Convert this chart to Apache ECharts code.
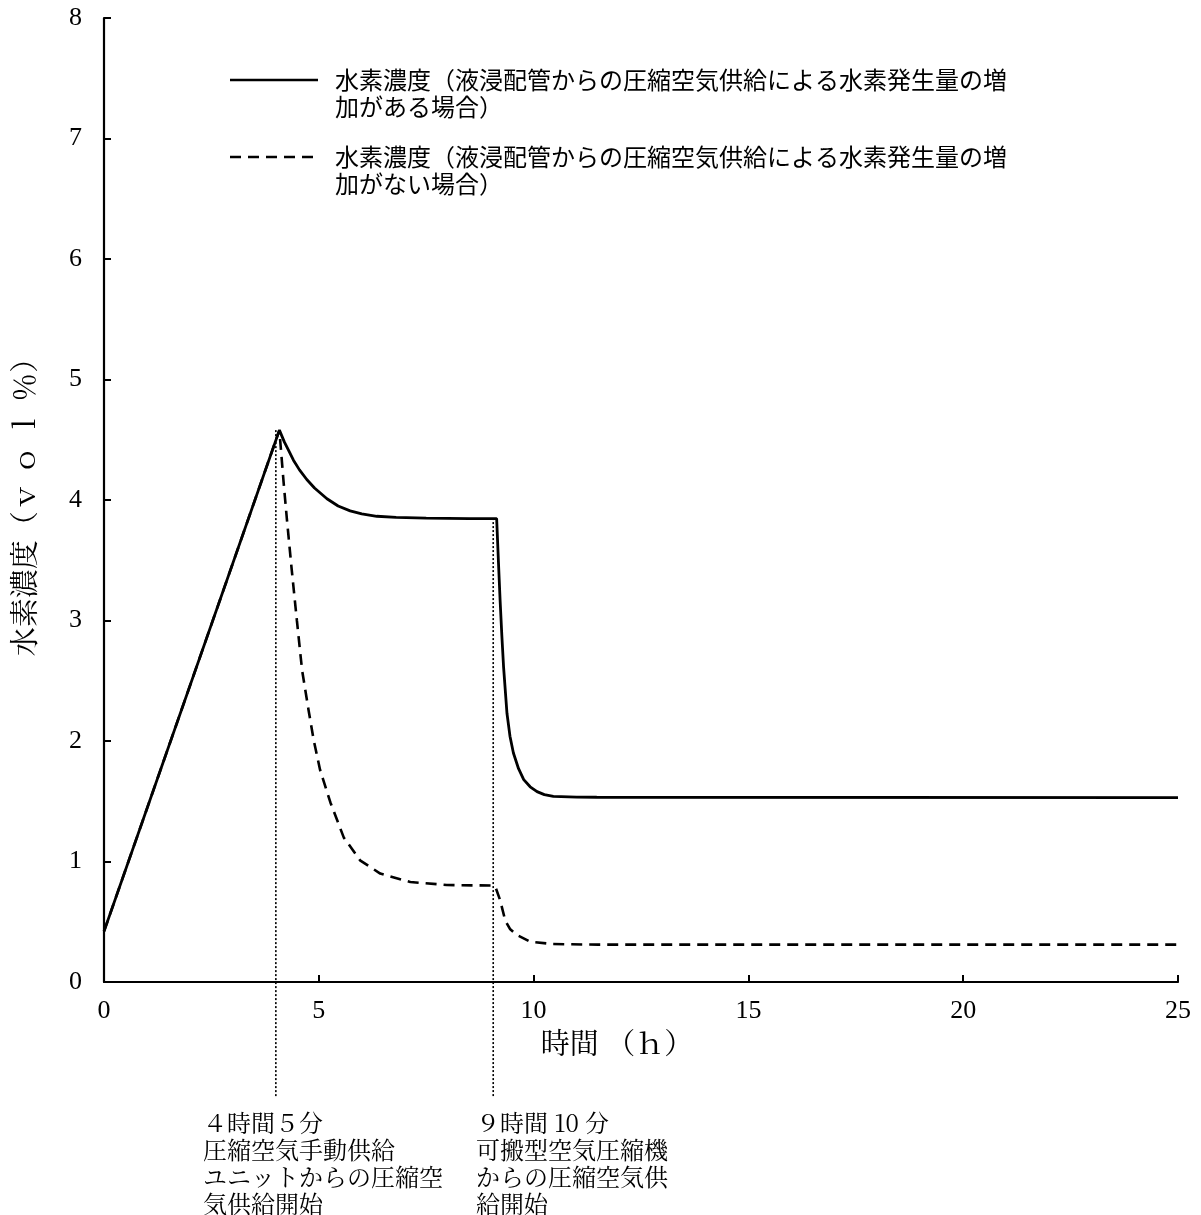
<!DOCTYPE html>
<html>
<head>
<meta charset="utf-8">
<script src="https://cdn.jsdelivr.net/npm/echarts@6/dist/echarts.min.js"></script>
<style>
html,body{margin:0;padding:0;background:#fff;}
#main{width:1201px;height:1215px;}
</style>
</head>
<body>
<div id="main"></div>
<script>
// ---- data ----
var seriesNames = [
  '水素濃度（液浸配管からの圧縮空気供給による水素発生量の増加がある場合）',
  '水素濃度（液浸配管からの圧縮空気供給による水素発生量の増加がない場合）'
];
var legendLines = [
  ['水素濃度（液浸配管からの圧縮空気供給による水素発生量の増', '加がある場合）'],
  ['水素濃度（液浸配管からの圧縮空気供給による水素発生量の増', '加がない場合）']
];
// [time (h), concentration (vol%)]
var withIncrease = [
  [0,0.42],[4.083,4.58],[4.2,4.48],[4.3,4.41],[4.41,4.33],[4.55,4.25],[4.72,4.17],
  [4.9,4.10],[5.19,4.01],[5.45,3.95],[5.73,3.91],[6.0,3.885],[6.35,3.865],[6.8,3.855],
  [7.5,3.85],[8.5,3.845],[9.14,3.845],[9.18,3.50],[9.22,3.17],[9.26,2.88],[9.30,2.62],
  [9.38,2.23],[9.45,2.04],[9.53,1.90],[9.65,1.77],[9.77,1.68],[9.92,1.62],[10.08,1.58],
  [10.25,1.555],[10.46,1.54],[11.0,1.535],[11.47,1.533],[25,1.53]
];
var withoutIncrease = [
  [0,0.42],[4.083,4.58],[4.10,4.50],[4.18,4.15],[4.26,3.83],[4.37,3.42],[4.49,3.00],
  [4.61,2.59],[4.76,2.26],[4.88,2.01],[5.03,1.76],[5.27,1.49],[5.58,1.20],[5.96,1.01],
  [6.43,0.90],[7.13,0.83],[7.98,0.805],[9.06,0.80],[9.12,0.78],[9.22,0.68],[9.34,0.51],
  [9.45,0.44],[9.61,0.39],[9.92,0.335],[10.45,0.315],[11.5,0.31],[25,0.31]
];
// event markers: [time, top value, bottom value (below axis)]
var event1 = [[4.0,4.58],[4.0,-0.95]];
var event2 = [[9.06,3.85],[9.06,-0.95]];
var event1Text = ['４時間５分','圧縮空気手動供給','ユニットからの圧縮空','気供給開始'];
var event2Text = ['９時間 10 分','可搬型空気圧縮機','からの圧縮空気供','給開始'];
var xTicks = {min:0, max:25, interval:5};
var yTicks = {min:0, max:8, interval:1};
var xAxisName = '時間 （ｈ）';
var yAxisName = '水素濃度（ｖ ｏ ｌ ％）';

// ---- chart ----
var chart = echarts.init(document.getElementById('main'));
var serif = '"Liberation Serif","DejaVu Serif",serif';
var cjk = '"Noto Serif CJK JP","Noto Sans CJK JP",sans-serif';
var cjkSans = '"Noto Sans CJK JP",sans-serif';

function legendGraphic(i, y, dashed){
  return [
    {type:'line', shape:{x1:230,y1:y,x2:318,y2:y},
     style:{stroke:'#000', lineWidth:2.6, lineDash: dashed ? [11,7] : null}},
    {type:'text', x:335, y:y-14,
     style:{text:legendLines[i].join('\n'), font:'24px ' + cjkSans, fill:'#000', lineHeight:27}}
  ];
}

var option = {
  animation:false,
  backgroundColor:'#fff',
  grid:{left:104, right:23, top:18, bottom:233, containLabel:false, outerBoundsMode:'none'},
  xAxis:{
    type:'value', min:xTicks.min, max:xTicks.max, interval:xTicks.interval,
    name:xAxisName, nameLocation:'middle', nameGap:42,
    nameTextStyle:{fontFamily:cjk, fontSize:29, color:'#000', padding:[0,48,0,0]},
    axisLine:{show:true, lineStyle:{color:'#000', width:2.2}},
    axisTick:{show:true, inside:true, length:7, lineStyle:{color:'#000', width:2}},
    axisLabel:{fontFamily:serif, fontSize:26, color:'#000', margin:16},
    splitLine:{show:false}
  },
  yAxis:{
    type:'value', min:yTicks.min, max:yTicks.max, interval:yTicks.interval,
    name:yAxisName, nameLocation:'middle', nameGap:66,
    nameTextStyle:{fontFamily:cjk, fontSize:29, color:'#000'},
    axisLine:{show:true, lineStyle:{color:'#000', width:2.2}},
    axisTick:{show:true, inside:true, length:7, lineStyle:{color:'#000', width:2}},
    axisLabel:{fontFamily:serif, fontSize:26, color:'#000', margin:22},
    splitLine:{show:false}
  },
  series:[
    {type:'line', name:'event1', data:event1, symbol:'none', clip:false, silent:true,
     lineStyle:{color:'#000', width:1.6, type:[2,2]}, z:1},
    {type:'line', name:'event2', data:event2, symbol:'none', clip:false, silent:true,
     lineStyle:{color:'#000', width:1.6, type:[2,2]}, z:1},
    {type:'line', name:seriesNames[1], data:withoutIncrease, symbol:'none',
     lineStyle:{color:'#000', width:2.6, type:[11,7]}, z:2},
    {type:'line', name:seriesNames[0], data:withIncrease, symbol:'none',
     lineStyle:{color:'#000', width:2.8}, z:3}
  ],
  graphic:[].concat(
    legendGraphic(0, 80, false),
    legendGraphic(1, 157, true),
    [
      {type:'text', x:203, y:1109,
       style:{text:event1Text.join('\n'), font:'24px ' + cjk, fill:'#000', lineHeight:27}},
      {type:'text', x:476, y:1109,
       style:{text:event2Text.join('\n'), font:'24px ' + cjk, fill:'#000', lineHeight:27}}
    ]
  )
};
chart.setOption(option);
</script>
</body>
</html>
